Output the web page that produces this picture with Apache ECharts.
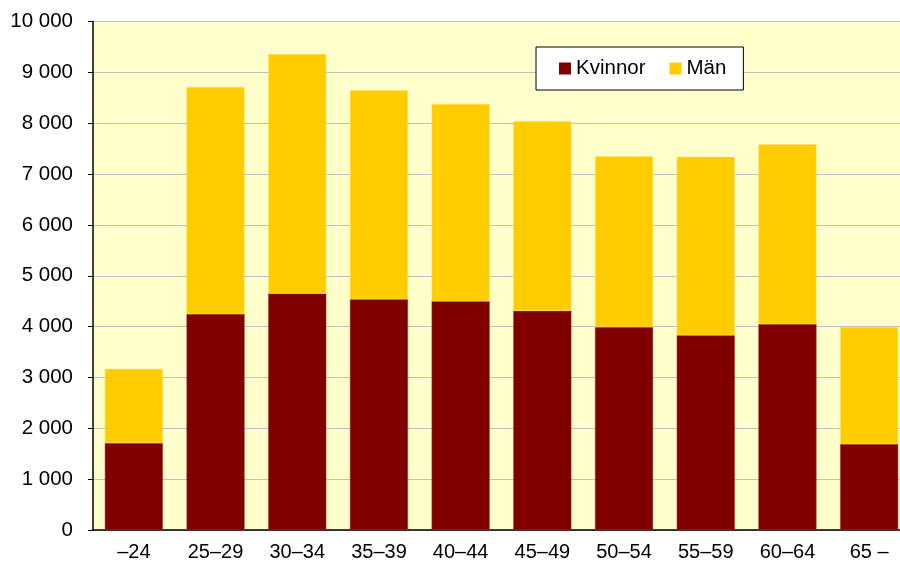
<!DOCTYPE html>
<html>
<head>
<meta charset="utf-8">
<script src="https://cdn.jsdelivr.net/npm/echarts@6/dist/echarts.min.js"></script>
<style>
  html, body { margin: 0; padding: 0; background: #ffffff; }
  #chart { width: 900px; height: 564px; }
</style>
</head>
<body>
<div id="chart"></div>
<script>
const categories = ['–24', '25–29', '30–34', '35–39', '40–44', '45–49', '50–54', '55–59', '60–64', '65 –'];
const kvinnor = [1710, 4250, 4650, 4540, 4500, 4310, 3990, 3830, 4050, 1690];
const man = [1460, 4460, 4710, 4110, 3880, 3730, 3360, 3510, 3535, 2300];
const seriesNames = ['Kvinnor', 'Män'];
const yTicks = { min: 0, max: 10000, interval: 1000 };

const chart = echarts.init(document.getElementById('chart'));

function fmt(v) {
    return String(v).replace(/\B(?=(\d{3})+(?!\d))/g, ' ');
}

const option = {
    animation: false,
    textStyle: { fontFamily: 'Liberation Sans, Arial, sans-serif' },
    grid: {
        left: 93,
        top: 21.5,
        right: -10,
        bottom: 34,
        outerBoundsMode: 'none',
        containLabel: false,
        show: true,
        backgroundColor: '#FFFFCC',
        borderWidth: 0
    },
    legend: {
        left: 536,
        top: 47,
        data: seriesNames,
        icon: 'rect',
        itemWidth: 12,
        itemHeight: 12,
        itemGap: 24,
        padding: [11, 17, 11, 23],
        backgroundColor: '#ffffff',
        borderColor: '#000000',
        borderWidth: 1,
        itemStyle: { borderWidth: 0 },
        textStyle: { fontSize: 20.5, color: '#000000' }
    },
    xAxis: {
        type: 'category',
        data: categories,
        axisLine: { lineStyle: { color: '#000000', width: 1.5 } },
        axisTick: { show: false },
        axisLabel: { fontSize: 20, color: '#000000', margin: 12 }
    },
    yAxis: {
        type: 'value',
        min: yTicks.min,
        max: yTicks.max,
        interval: yTicks.interval,
        axisLine: { show: true, lineStyle: { color: '#000000', width: 1.5 } },
        axisTick: { show: true, length: 5, lineStyle: { color: '#000000' } },
        axisLabel: { fontSize: 20.5, color: '#000000', margin: 20, formatter: fmt },
        splitLine: { lineStyle: { color: '#C0C0C0', width: 1 } }
    },
    series: [
        {
            name: seriesNames[0],
            type: 'bar',
            stack: 'total',
            barCategoryGap: '29%',
            itemStyle: { color: '#800000', borderColor: '#9a3030', borderWidth: 0.5 },
            data: kvinnor
        },
        {
            name: seriesNames[1],
            type: 'bar',
            stack: 'total',
            barCategoryGap: '29%',
            itemStyle: { color: '#FFCC00', borderColor: '#FFE066', borderWidth: 0.5 },
            data: man
        }
    ]
};

chart.setOption(option);
</script>
</body>
</html>
